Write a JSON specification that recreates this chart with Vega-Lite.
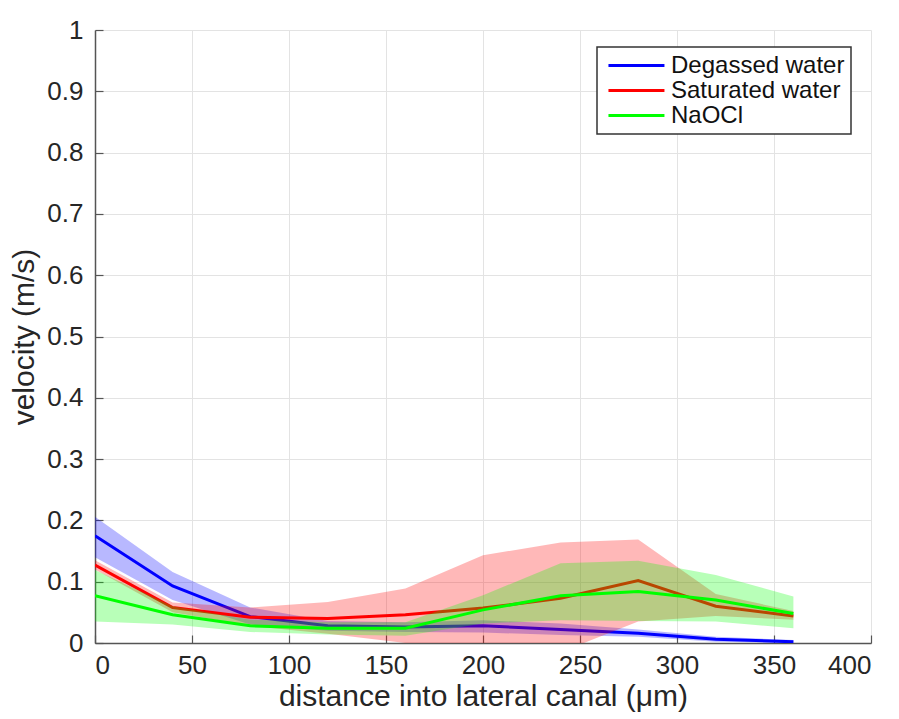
{
  "$schema": "https://vega.github.io/schema/vega-lite/v6.json",
  "width": 776,
  "height": 613,
  "autosize": {"type": "none"},
  "padding": {"left": 95, "top": 30, "right": 28, "bottom": 76},
  "background": "white",
  "data": {
    "values": [
      {"series": "Degassed water", "x": 0, "mean": 0.175, "lo": 0.14, "hi": 0.206},
      {"series": "Degassed water", "x": 40, "mean": 0.093, "lo": 0.07, "hi": 0.116},
      {"series": "Degassed water", "x": 80, "mean": 0.043, "lo": 0.03, "hi": 0.058},
      {"series": "Degassed water", "x": 120, "mean": 0.028, "lo": 0.02, "hi": 0.036},
      {"series": "Degassed water", "x": 160, "mean": 0.026, "lo": 0.018, "hi": 0.034},
      {"series": "Degassed water", "x": 200, "mean": 0.028, "lo": 0.017, "hi": 0.037},
      {"series": "Degassed water", "x": 240, "mean": 0.022, "lo": 0.013, "hi": 0.032},
      {"series": "Degassed water", "x": 280, "mean": 0.016, "lo": 0.01, "hi": 0.022},
      {"series": "Degassed water", "x": 320, "mean": 0.006, "lo": 0.002, "hi": 0.01},
      {"series": "Degassed water", "x": 360, "mean": 0.002, "lo": 0.0, "hi": 0.005},
      {"series": "Saturated water", "x": 0, "mean": 0.127, "lo": 0.12, "hi": 0.135},
      {"series": "Saturated water", "x": 40, "mean": 0.058, "lo": 0.05, "hi": 0.066},
      {"series": "Saturated water", "x": 80, "mean": 0.042, "lo": 0.028, "hi": 0.058},
      {"series": "Saturated water", "x": 120, "mean": 0.04, "lo": 0.015, "hi": 0.067},
      {"series": "Saturated water", "x": 160, "mean": 0.046, "lo": 0.0, "hi": 0.089},
      {"series": "Saturated water", "x": 200, "mean": 0.057, "lo": -0.025, "hi": 0.143},
      {"series": "Saturated water", "x": 240, "mean": 0.073, "lo": -0.015, "hi": 0.164},
      {"series": "Saturated water", "x": 280, "mean": 0.102, "lo": 0.035, "hi": 0.169},
      {"series": "Saturated water", "x": 320, "mean": 0.06, "lo": 0.044, "hi": 0.08},
      {"series": "Saturated water", "x": 360, "mean": 0.044, "lo": 0.038, "hi": 0.052},
      {"series": "NaOCl", "x": 0, "mean": 0.077, "lo": 0.035, "hi": 0.119},
      {"series": "NaOCl", "x": 40, "mean": 0.046, "lo": 0.03, "hi": 0.06},
      {"series": "NaOCl", "x": 80, "mean": 0.028, "lo": 0.018, "hi": 0.038},
      {"series": "NaOCl", "x": 120, "mean": 0.024, "lo": 0.014, "hi": 0.034},
      {"series": "NaOCl", "x": 160, "mean": 0.024, "lo": 0.012, "hi": 0.034},
      {"series": "NaOCl", "x": 200, "mean": 0.054, "lo": 0.032, "hi": 0.078},
      {"series": "NaOCl", "x": 240, "mean": 0.077, "lo": 0.037, "hi": 0.13},
      {"series": "NaOCl", "x": 280, "mean": 0.084, "lo": 0.036, "hi": 0.134},
      {"series": "NaOCl", "x": 320, "mean": 0.07, "lo": 0.035, "hi": 0.111},
      {"series": "NaOCl", "x": 360, "mean": 0.048, "lo": 0.024, "hi": 0.076}
    ]
  },
  "encoding": {
    "x": {
      "field": "x",
      "type": "quantitative",
      "title": "distance into lateral canal (μm)",
      "scale": {"domain": [0, 400], "nice": false, "zero": false},
      "axis": {"values": [0, 50, 100, 150, 200, 250, 300, 350, 400], "format": "d", "titlePadding": 3, "labelPadding": 17}
    }
  },
  "layer": [
    {
      "transform": [{"filter": "datum.series === 'Degassed water'"}],
      "mark": {"type": "area", "color": "#0000ff", "opacity": 0.28, "clip": true},
      "encoding": {
        "y": {"field": "lo", "type": "quantitative", "title": "velocity (m/s)", "scale": {"domain": [0, 1], "nice": false},
          "axis": {"values": [0, 0.1, 0.2, 0.3, 0.4, 0.5, 0.6, 0.7, 0.8, 0.9, 1], "format": "~g", "titlePadding": 7}},
        "y2": {"field": "hi"}
      }
    },
    {
      "transform": [{"filter": "datum.series === 'Degassed water'"}],
      "mark": {"type": "line", "strokeWidth": 3, "clip": true},
      "encoding": {
        "y": {"field": "mean", "type": "quantitative", "title": "velocity (m/s)", "scale": {"domain": [0, 1], "nice": false},
          "axis": {"values": [0, 0.1, 0.2, 0.3, 0.4, 0.5, 0.6, 0.7, 0.8, 0.9, 1], "format": "~g", "titlePadding": 7}},
        "color": {"field": "series", "type": "nominal", "scale": {"domain": ["Degassed water", "Saturated water", "NaOCl"], "range": ["#0000ff", "#ff0000", "#00ff00"]}, "title": null}
      }
    },
    {
      "transform": [{"filter": "datum.series === 'Saturated water'"}],
      "mark": {"type": "area", "color": "#ff0000", "opacity": 0.28, "clip": true},
      "encoding": {
        "y": {"field": "lo", "type": "quantitative", "title": "velocity (m/s)", "scale": {"domain": [0, 1], "nice": false},
          "axis": {"values": [0, 0.1, 0.2, 0.3, 0.4, 0.5, 0.6, 0.7, 0.8, 0.9, 1], "format": "~g", "titlePadding": 7}},
        "y2": {"field": "hi"}
      }
    },
    {
      "transform": [{"filter": "datum.series === 'Saturated water'"}],
      "mark": {"type": "line", "strokeWidth": 3, "clip": true},
      "encoding": {
        "y": {"field": "mean", "type": "quantitative", "title": "velocity (m/s)", "scale": {"domain": [0, 1], "nice": false},
          "axis": {"values": [0, 0.1, 0.2, 0.3, 0.4, 0.5, 0.6, 0.7, 0.8, 0.9, 1], "format": "~g", "titlePadding": 7}},
        "color": {"field": "series", "type": "nominal", "scale": {"domain": ["Degassed water", "Saturated water", "NaOCl"], "range": ["#0000ff", "#ff0000", "#00ff00"]}, "title": null}
      }
    },
    {
      "transform": [{"filter": "datum.series === 'NaOCl'"}],
      "mark": {"type": "area", "color": "#00ff00", "opacity": 0.28, "clip": true},
      "encoding": {
        "y": {"field": "lo", "type": "quantitative", "title": "velocity (m/s)", "scale": {"domain": [0, 1], "nice": false},
          "axis": {"values": [0, 0.1, 0.2, 0.3, 0.4, 0.5, 0.6, 0.7, 0.8, 0.9, 1], "format": "~g", "titlePadding": 7}},
        "y2": {"field": "hi"}
      }
    },
    {
      "transform": [{"filter": "datum.series === 'NaOCl'"}],
      "mark": {"type": "line", "strokeWidth": 3, "clip": true},
      "encoding": {
        "y": {"field": "mean", "type": "quantitative", "title": "velocity (m/s)", "scale": {"domain": [0, 1], "nice": false},
          "axis": {"values": [0, 0.1, 0.2, 0.3, 0.4, 0.5, 0.6, 0.7, 0.8, 0.9, 1], "format": "~g", "titlePadding": 7}},
        "color": {"field": "series", "type": "nominal", "scale": {"domain": ["Degassed water", "Saturated water", "NaOCl"], "range": ["#0000ff", "#ff0000", "#00ff00"]}, "title": null}
      }
    }
  ],
  "config": {
    "view": {"stroke": null},
    "font": "Liberation Sans",
    "axis": {
      "labelFont": "Liberation Sans",
      "labelFontSize": 26,
      "labelColor": "#262626",
      "titleFont": "Liberation Sans",
      "titleFontSize": 30,
      "titleFontWeight": "normal",
      "titleColor": "#262626",
      "domainColor": "#555555",
      "domainWidth": 1.5,
      "tickColor": "#555555",
      "tickSize": -8,
      "tickWidth": 1.2,
      "labelPadding": 20,
      "gridColor": "#e3e3e3",
      "gridWidth": 1
    },
    "legend": {
      "orient": "none",
      "legendX": 502,
      "legendY": 17,
      "strokeColor": "#333333",
      "strokeWidth": 1.5,
      "fillColor": "white",
      "padding": 6,
      "symbolType": "M-0.64,0H4.45",
      "symbolSize": 484,
      "symbolStrokeWidth": 3,
      "symbolFillColor": "transparent",
      "labelFont": "Liberation Sans",
      "labelFontSize": 24,
      "labelColor": "#111111",
      "labelOffset": 43,
      "labelLimit": 400,
      "rowPadding": 0
    }
  }
}
